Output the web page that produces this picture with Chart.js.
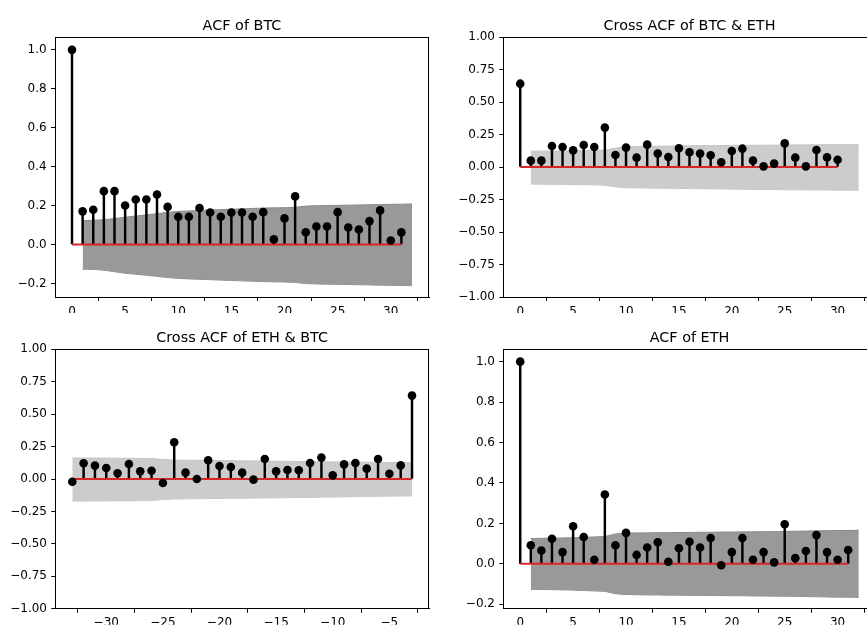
<!DOCTYPE html>
<html>
<head>
<meta charset="utf-8">
<script src="https://cdn.jsdelivr.net/npm/chart.js@4/dist/chart.umd.min.js"></script>
<style>
html,body{margin:0;padding:0;background:#fff;overflow:hidden;width:867px;height:630px;}
.wrap{position:absolute;}
canvas{display:block;}
</style>
</head>
<body>
<div class="wrap" id="w1" style="left:0;top:0;width:440px;height:315px"><canvas id="c1"></canvas></div>
<div class="wrap" id="w2" style="left:440px;top:0;width:440px;height:315px"><canvas id="c2"></canvas></div>
<div class="wrap" id="w3" style="left:0;top:315px;width:440px;height:315px"><canvas id="c3"></canvas></div>
<div class="wrap" id="w4" style="left:440px;top:315px;width:440px;height:315px"><canvas id="c4"></canvas></div>
<script>
// ---------- DATA ----------
const titles = ["ACF of BTC", "Cross ACF of BTC & ETH", "Cross ACF of ETH & BTC", "ACF of ETH"];

const lagsBtc = [0,1,2,3,4,5,6,7,8,9,10,11,12,13,14,15,16,17,18,19,20,21,22,23,24,25,26,27,28,29,30,31];
const acfBtc = [1.0,0.170,0.178,0.274,0.274,0.200,0.231,0.231,0.257,0.193,0.142,0.142,0.187,0.164,0.142,0.164,0.164,0.142,0.166,0.026,0.134,0.247,0.063,0.092,0.092,0.166,0.087,0.077,0.120,0.175,0.020,0.062];
const bandLagsBtc = [1,2,3,4,5,6,7,8,9,10,11,12,13,14,15,16,17,18,19,20,21,22,23,24,25,26,27,28,29,30,31,32];
const bandUpperBtc = [0.123,0.124,0.127,0.133,0.140,0.146,0.152,0.158,0.165,0.170,0.172,0.175,0.177,0.179,0.181,0.183,0.185,0.187,0.188,0.189,0.191,0.197,0.199,0.200,0.201,0.202,0.203,0.204,0.205,0.206,0.207,0.208];
const bandLowerBtc = [-0.127,-0.128,-0.132,-0.140,-0.148,-0.153,-0.158,-0.164,-0.170,-0.174,-0.177,-0.179,-0.181,-0.183,-0.185,-0.187,-0.189,-0.191,-0.192,-0.193,-0.195,-0.201,-0.203,-0.204,-0.205,-0.206,-0.207,-0.208,-0.209,-0.210,-0.211,-0.212];

const lagsBtcEth = [0,1,2,3,4,5,6,7,8,9,10,11,12,13,14,15,16,17,18,19,20,21,22,23,24,25,26,27,28,29,30];
const ccfBtcEth = [0.641,0.049,0.049,0.162,0.154,0.128,0.169,0.154,0.303,0.092,0.149,0.072,0.172,0.103,0.077,0.144,0.113,0.103,0.090,0.036,0.123,0.141,0.049,0.005,0.026,0.182,0.072,0.005,0.131,0.074,0.056];
const bandLagsBtcEth = [1,2,3,4,5,6,7,8,9,10,11,12,13,14,15,16,17,18,19,20,21,22,23,24,25,26,27,28,29,30,31,32];
const bandUpperBtcEth = [0.121,0.122,0.123,0.124,0.125,0.126,0.127,0.130,0.145,0.157,0.158,0.159,0.160,0.161,0.162,0.163,0.164,0.164,0.165,0.166,0.167,0.167,0.168,0.168,0.169,0.170,0.170,0.171,0.171,0.172,0.172,0.172];
const bandLowerBtcEth = [-0.131,-0.132,-0.133,-0.134,-0.135,-0.136,-0.137,-0.140,-0.152,-0.160,-0.161,-0.162,-0.163,-0.164,-0.165,-0.166,-0.167,-0.168,-0.169,-0.170,-0.171,-0.172,-0.173,-0.174,-0.175,-0.175,-0.176,-0.177,-0.177,-0.178,-0.178,-0.179];

const lagsEthBtc = [-33,-32,-31,-30,-29,-28,-27,-26,-25,-24,-23,-22,-21,-20,-19,-18,-17,-16,-15,-14,-13,-12,-11,-10,-9,-8,-7,-6,-5,-4,-3];
const ccfEthBtc = [-0.021,0.121,0.103,0.085,0.044,0.116,0.059,0.064,-0.031,0.283,0.049,0.000,0.144,0.100,0.093,0.049,-0.005,0.154,0.059,0.069,0.067,0.123,0.165,0.028,0.113,0.123,0.080,0.154,0.041,0.105,0.643];
const bandLagsEthBtc = lagsEthBtc;
const bandUpperEthBtc = [0.162,0.162,0.161,0.161,0.160,0.160,0.159,0.158,0.150,0.146,0.145,0.144,0.143,0.142,0.141,0.140,0.139,0.138,0.137,0.136,0.135,0.134,0.133,0.132,0.131,0.130,0.129,0.128,0.127,0.127,0.126];
const bandLowerEthBtc = [-0.170,-0.170,-0.169,-0.169,-0.168,-0.168,-0.167,-0.166,-0.158,-0.154,-0.153,-0.152,-0.151,-0.150,-0.149,-0.148,-0.147,-0.146,-0.145,-0.144,-0.143,-0.142,-0.140,-0.139,-0.138,-0.136,-0.135,-0.133,-0.132,-0.131,-0.130];

const lagsEth = [0,1,2,3,4,5,6,7,8,9,10,11,12,13,14,15,16,17,18,19,20,21,22,23,24,25,26,27,28,29,30,31];
const acfEth = [1.0,0.092,0.066,0.124,0.058,0.186,0.133,0.020,0.343,0.092,0.153,0.044,0.081,0.107,0.010,0.077,0.109,0.081,0.128,-0.007,0.058,0.128,0.020,0.058,0.007,0.196,0.028,0.063,0.142,0.058,0.020,0.068];
const bandLagsEth = [1,2,3,4,5,6,7,8,9,10,11,12,13,14,15,16,17,18,19,20,21,22,23,24,25,26,27,28,29,30,31,32];
const bandUpperEth = [0.125,0.126,0.127,0.128,0.129,0.131,0.133,0.135,0.148,0.152,0.153,0.153,0.154,0.154,0.155,0.155,0.156,0.156,0.157,0.157,0.158,0.158,0.159,0.159,0.160,0.161,0.162,0.163,0.164,0.165,0.165,0.166];
const bandLowerEth = [-0.126,-0.127,-0.128,-0.129,-0.130,-0.132,-0.134,-0.136,-0.148,-0.152,-0.153,-0.154,-0.154,-0.155,-0.155,-0.156,-0.156,-0.157,-0.157,-0.158,-0.158,-0.159,-0.159,-0.160,-0.160,-0.161,-0.162,-0.163,-0.164,-0.165,-0.165,-0.166];

const xTicksPos = [0,5,10,15,20,25,30];
const xTicksNeg = [-30,-25,-20,-15,-10,-5];
const yTicksAcf = [-0.2,0.0,0.2,0.4,0.6,0.8,1.0];
const yTicksCcf = [-1.0,-0.75,-0.5,-0.25,0.0,0.25,0.5,0.75,1.0];

// ---------- RENDER ----------
const FONT = "'DejaVu Sans', sans-serif";
Chart.defaults.font.family = FONT;
Chart.defaults.font.size = 12;
const fmtNum = (v, dec) => {
  let s = (Math.abs(v) < 1e-9 ? 0 : v).toFixed(dec);
  return s.replace('-', '\u2212');
};

const framePlugin = {
  id: 'frame',
  afterDraw(chart, args, opts) {
    const {ctx, chartArea: a} = chart;
    ctx.save();
    ctx.strokeStyle = '#000';
    ctx.lineWidth = 1;
    ctx.beginPath();
    ctx.moveTo(a.left, Math.round(a.top) + 0.5);
    ctx.lineTo(a.right, Math.round(a.top) + 0.5);
    ctx.moveTo(Math.round(a.right) - 0.5, a.top);
    ctx.lineTo(Math.round(a.right) - 0.5, a.bottom);
    ctx.stroke();
    ctx.fillStyle = '#000';
    ctx.font = "14.4px " + FONT;
    ctx.textAlign = 'center';
    ctx.textBaseline = 'alphabetic';
    ctx.fillText(opts.text, (a.left + a.right) / 2, a.top - 7.2);
    ctx.restore();
  }
};

function makeChart(id, p) {
  const pts = p.lags.map((x, i) => ({x: x, y: p.vals[i]}));
  const up = p.bandLags.map((x, i) => ({x: x, y: p.bandUp[i]}));
  const lo = p.bandLags.map((x, i) => ({x: x, y: p.bandLo[i]}));
  const base = [{x: p.lags[0], y: 0}, {x: p.lags[p.lags.length - 1], y: 0}];
  return new Chart(document.getElementById(id), {
    type: 'scatter',
    data: {
      datasets: [
        {type: 'line', data: up, borderColor: p.edge, borderWidth: 1, backgroundColor: p.band,
         fill: '+1', pointRadius: 0, tension: 0, order: 5},
        {type: 'line', data: lo, borderColor: p.edge, borderWidth: 1, backgroundColor: p.band,
         fill: false, pointRadius: 0, tension: 0, order: 5},
        {type: 'bar', data: pts, backgroundColor: '#000', borderWidth: 0, barThickness: 1.8,
         grouped: false, order: 3},
        {type: 'line', data: base, borderColor: '#d62728', borderWidth: 2, pointRadius: 0,
         fill: false, order: 2},
        {type: 'scatter', data: pts, pointRadius: 4.3, pointBackgroundColor: '#000',
         pointBorderWidth: 0, showLine: false, order: 1}
      ]
    },
    options: {
      responsive: true, maintainAspectRatio: false, animation: false, events: [],
      layout: {padding: p.pad},
      plugins: {legend: {display: false}, tooltip: {enabled: false}, title: {display: false},
                frame: {text: p.title}},
      scales: {
        x: {
          type: 'linear', min: p.xMin, max: p.xMax, offset: false,
          grid: {display: true, drawOnChartArea: false, drawTicks: true, tickLength: 4, tickColor: '#000', tickWidth: 1},
          border: {display: true, color: '#000', width: 1},
          ticks: {color: '#000', font: {family: FONT, size: 12}, padding: p.xPad, maxRotation: 0, autoSkip: false,
                  callback: v => fmtNum(v, 0)},
          afterBuildTicks: s => { s.ticks = p.xTicks.map(v => ({value: v})); },
          afterFit: s => { s.height = 16; }
        },
        y: {
          type: 'linear', min: p.yMin, max: p.yMax,
          grid: {display: true, drawOnChartArea: false, drawTicks: true, tickLength: 4, tickColor: '#000', tickWidth: 1},
          border: {display: true, color: '#000', width: 1},
          ticks: {color: '#000', font: {family: FONT, size: 12}, padding: 4.3, autoSkip: false,
                  callback: v => fmtNum(v, p.yDec)},
          afterBuildTicks: s => { s.ticks = p.yTicks.map(v => ({value: v})); },
          afterFit: s => { s.width = p.yWidth; }
        }
      }
    },
    plugins: [framePlugin]
  });
}

makeChart('c1', {lags: lagsBtc, vals: acfBtc, bandLags: bandLagsBtc, bandUp: bandUpperBtc, bandLo: bandLowerBtc,
  band: '#999999', edge: '#8a8a8a', xMin: -1.6, xMax: 33.6, yMin: -0.27, yMax: 1.066,
  xTicks: xTicksPos, yTicks: yTicksAcf, yDec: 1, title: titles[0], yWidth: 55, xPad: 4,
  pad: {top: 37, left: 0, right: 11, bottom: 2}});

makeChart('c2', {lags: lagsBtcEth, vals: ccfBtcEth, bandLags: bandLagsBtcEth, bandUp: bandUpperBtcEth, bandLo: bandLowerBtcEth,
  band: '#cccccc', edge: '#c4c4c4', xMin: -1.6, xMax: 33.6, yMin: -1, yMax: 1,
  xTicks: xTicksPos, yTicks: yTicksCcf, yDec: 2, title: titles[1], yWidth: 63.3, xPad: 4,
  pad: {top: 37, left: 0, right: 3.2, bottom: 2}});

makeChart('c3', {lags: lagsEthBtc, vals: ccfEthBtc, bandLags: bandLagsEthBtc, bandUp: bandUpperEthBtc, bandLo: bandLowerEthBtc,
  band: '#cccccc', edge: '#c4c4c4', xMin: -34.5, xMax: -1.5, yMin: -1, yMax: 1,
  xTicks: xTicksNeg, yTicks: yTicksCcf, yDec: 2, title: titles[2], yWidth: 55.3, xPad: 2.5,
  pad: {top: 34.3, left: 0, right: 11, bottom: 5.3}});

makeChart('c4', {lags: lagsEth, vals: acfEth, bandLags: bandLagsEth, bandUp: bandUpperEth, bandLo: bandLowerEth,
  band: '#999999', edge: '#8a8a8a', xMin: -1.6, xMax: 33.6, yMin: -0.222, yMax: 1.061,
  xTicks: xTicksPos, yTicks: yTicksAcf, yDec: 1, title: titles[3], yWidth: 63.3, xPad: 2.5,
  pad: {top: 34.3, left: 0, right: 3.2, bottom: 5.3}});
</script>
</body>
</html>
